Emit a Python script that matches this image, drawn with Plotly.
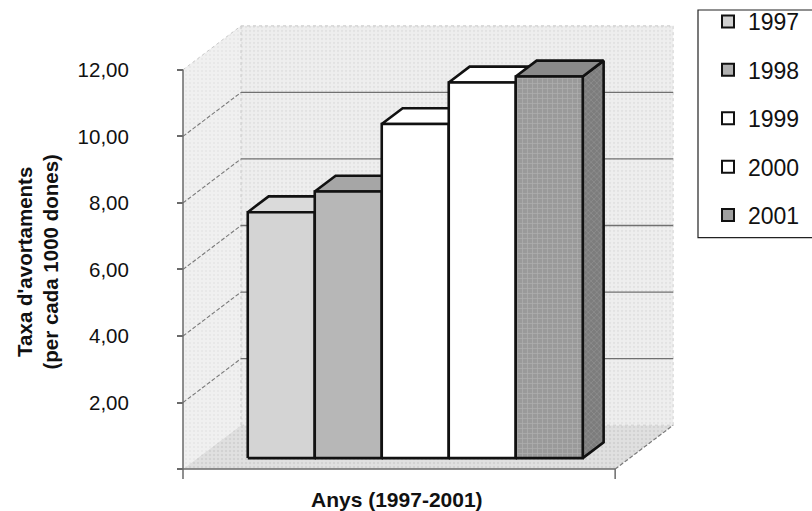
import plotly.graph_objects as go

# ---------------- data ----------------
years = ["1997", "1998", "1999", "2000", "2001"]
rates = [7.39, 8.01, 10.04, 11.29, 11.47]
tick_values = [0, 2, 4, 6, 8, 10, 12]
tick_labels = ["", "2,00", "4,00", "6,00", "8,00", "10,00", "12,00"]
y_title = "Taxa d'avortaments<br>(per cada 1000 dones)"
x_title = "Anys (1997-2001)"

# ---------------- style ----------------
front_colors = ["#d4d4d4", "#b7b7b7", "#ffffff", "#ffffff", "#9a9a9a"]
top_colors = ["#dadada", "#a6a6a6", "#ffffff", "#ffffff", "#8a8a8a"]
side_colors = ["#c0c0c0", "#9a9a9a", "#eeeeee", "#eeeeee", "#7c7c7c"]
legend_colors = ["#d0d0d0", "#b0b0b0", "#ffffff", "#ffffff", "#a0a0a0"]
FONT = "Arial, Liberation Sans, sans-serif"

W_PX, H_PX = 812, 511
X0_PX, Y0_PX = 183, 469          # pixel position of the front origin
PX_PER_X, PX_PER_Y = 67.0, 33.34  # pixels per bar-width / per value unit
DX, DY = 58 / PX_PER_X, 44 / PX_PER_Y   # full-depth oblique offset (data units)
GAP = 0.75                        # gap before first bar (bar widths)
FLOOR_W = 6.45                    # floor width (bar widths)
D_FRONT, D_BACK = 0.25, 0.61      # depth fraction of bar front / back
VMAX = tick_values[-1]


def proj(x, v, d):
    return x + d * DX, v + d * DY


def poly(points):
    xs, ys = zip(*(proj(*p) for p in points))
    return list(xs) + [xs[0]], list(ys) + [ys[0]]


fig = go.Figure()


def add_poly(points, fill, line_color="rgba(0,0,0,0)", line_w=0, pattern=None):
    xs, ys = poly(points)
    kw = {}
    if pattern:
        kw["fillpattern"] = pattern
    fig.add_trace(go.Scatter(x=xs, y=ys, mode="lines", fill="toself", fillcolor=fill,
                             line=dict(color=line_color, width=line_w),
                             showlegend=False, hoverinfo="skip", **kw))


def add_line(p1, p2, color, width=1, dash="solid"):
    (x1, y1), (x2, y2) = proj(*p1), proj(*p2)
    fig.add_trace(go.Scatter(x=[x1, x2], y=[y1, y2], mode="lines",
                             line=dict(color=color, width=width, dash=dash),
                             showlegend=False, hoverinfo="skip"))


# walls and floor
add_poly([(0, 0, 0), (0, VMAX, 0), (0, VMAX, 1), (0, 0, 1)], "#eeeeee",
         pattern=dict(shape=".", fgcolor="#dadada", bgcolor="#f0f0f0", size=4, solidity=0.2))
add_poly([(0, 0, 1), (FLOOR_W, 0, 1), (FLOOR_W, VMAX, 1), (0, VMAX, 1)], "#ececec",
         pattern=dict(shape=".", fgcolor="#d6d6d6", bgcolor="#eeeeee", size=4, solidity=0.25))
add_poly([(0, 0, 0), (FLOOR_W, 0, 0), (FLOOR_W, 0, 1), (0, 0, 1)], "#dcdcdc",
         pattern=dict(shape=".", fgcolor="#c4c4c4", bgcolor="#e0e0e0", size=4, solidity=0.3))

# wall edges
add_line((0, VMAX, 0), (0, VMAX, 1), "#c8c8c8", 1, "dot")
add_line((0, VMAX, 1), (FLOOR_W, VMAX, 1), "#c8c8c8", 1, "dot")
add_line((0, 0, 1), (0, VMAX, 1), "#c8c8c8", 1, "dot")
add_line((FLOOR_W, 0, 1), (FLOOR_W, VMAX, 1), "#d0d0d0", 1, "dot")
add_line((0, 0, 1), (FLOOR_W, 0, 1), "#d0d0d0", 1, "dot")

# gridlines
for v in tick_values[1:-1]:
    add_line((0, v, 1), (FLOOR_W, v, 1), "#707070", 1.3)
    add_line((0, v, 0), (0, v, 1), "#7a7a7a", 1.1, "4px,2px")

# floor edges and front axes
add_line((0, 0, 0), (FLOOR_W, 0, 0), "#6a6a6a", 1.5)
add_line((FLOOR_W, 0, 0), (FLOOR_W, 0, 1), "#7a7a7a", 1.2, "4px,2px")
add_line((FLOOR_W, -0.3, 0), (FLOOR_W, 0, 0), "#6a6a6a", 1.5)
add_line((0, -0.3, 0), (0, VMAX, 0), "#6a6a6a", 1.5)

# bars
for i, (yr, val) in enumerate(zip(years, rates)):
    xl = GAP + i
    xr = xl + 1
    pat_front = None
    pat_side = None
    if i == 4:
        pat_front = dict(shape="+", fgcolor="#c4c4c4", bgcolor=front_colors[i], size=5, solidity=0.25)
        pat_side = dict(shape="x", fgcolor="#a8a8a8", bgcolor=side_colors[i], size=4, solidity=0.3)
    add_poly([(xr, 0, D_FRONT), (xr, val, D_FRONT), (xr, val, D_BACK), (xr, 0, D_BACK)],
             side_colors[i], "#111111", 2.6, pat_side)
    add_poly([(xl, val, D_FRONT), (xr, val, D_FRONT), (xr, val, D_BACK), (xl, val, D_BACK)],
             top_colors[i], "#111111", 2.6)
    add_poly([(xl, 0, D_FRONT), (xr, 0, D_FRONT), (xr, val, D_FRONT), (xl, val, D_FRONT)],
             front_colors[i], "#111111", 2.6, pat_front)

# legend entries
for i, yr in enumerate(years):
    fig.add_trace(go.Bar(x=[None], y=[None], name=yr, legendgroup=yr,
                         marker=dict(color=legend_colors[i], line=dict(color="#111111", width=2))))

fig.update_layout(
    width=W_PX, height=H_PX,
    margin=dict(l=0, r=0, t=0, b=0),
    paper_bgcolor="white", plot_bgcolor="white",
    font=dict(family=FONT, color="#111111"),
    showlegend=True,
    legend=dict(x=698 / W_PX, y=1 + 1 / H_PX, xanchor="left", yanchor="top",
                bgcolor="rgba(0,0,0,0)", borderwidth=0,
                font=dict(size=23, family=FONT, color="#111111"),
                tracegroupgap=15.5, indentation=10, entrywidth=80, itemclick=False),
    shapes=[dict(type="rect", xref="paper", yref="paper",
                 x0=698 / W_PX, x1=1.05, y0=1 - 237 / H_PX, y1=1 - 9 / H_PX,
                 line=dict(color="#222222", width=1.2), fillcolor="white", layer="above")],
    xaxis=dict(range=[-X0_PX / PX_PER_X, (W_PX - X0_PX) / PX_PER_X], visible=False, fixedrange=True),
    yaxis=dict(range=[-(H_PX - Y0_PX) / PX_PER_Y, Y0_PX / PX_PER_Y],
               anchor="free", position=X0_PX / W_PX, side="left",
               showgrid=False, zeroline=False, showline=False,
               tickvals=tick_values, ticktext=tick_labels,
               ticks="outside", ticklen=6, tickcolor="#6a6a6a", tickwidth=1.5,
               ticklabelstandoff=44,
               tickfont=dict(size=20.5, family=FONT, color="#111111"), fixedrange=True),
    annotations=[
        dict(text="<b>" + y_title + "</b>", xref="paper", yref="paper",
             x=38 / W_PX, y=1 - 262 / H_PX, xanchor="center", yanchor="middle",
             textangle=-90, showarrow=False,
             font=dict(size=20.5, family=FONT, color="#111111"), align="center"),
        dict(text="<b>" + x_title + "</b>", xref="paper", yref="paper",
             x=397 / W_PX, y=1 - 499 / H_PX, xanchor="center", yanchor="middle",
             showarrow=False,
             font=dict(size=21, family=FONT, color="#111111")),
    ],
)

fig.write_html("out.html", config={"displayModeBar": False},
               post_script="document.body.style.margin='0';document.body.style.overflow='hidden';")
